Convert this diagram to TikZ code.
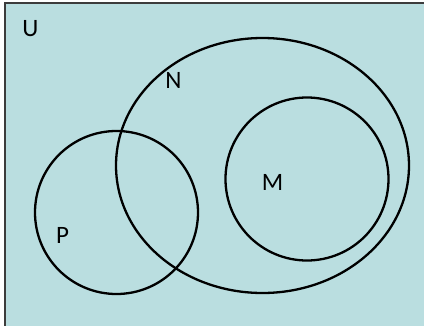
\documentclass[tikz,border=0pt]{standalone}
\usepackage{fontspec}
\setmainfont{Carlito}
\usepackage{tikz}
\usetikzlibrary{shapes.geometric}
\definecolor{vennbg}{RGB}{186,222,224}
\definecolor{vennframe}{RGB}{60,60,60}

\begin{document}
\begin{tikzpicture}[
        x=1pt, y=-1pt,
        setline/.style={draw=black, line width=2.3pt, inner sep=0pt},
        setcircle/.style={setline, circle},
        setoval/.style={setline, ellipse},
        setlabel/.style={font=\fontsize{25}{28}\selectfont, inner sep=0pt}
    ]
    \useasboundingbox (0,0) rectangle (424,325);
    \clip (0,0) rectangle (424,325);

    % universe
    \draw[fill=vennbg, draw=vennframe, line width=1.5pt] (5,3) rectangle (430,331);

    \node[setoval, minimum width=293pt, minimum height=255pt] (N) at (262.5,165.5) {};
    \node[setcircle, minimum size=163pt] (M) at (307,179) {};
    \node[setcircle, minimum size=163pt] (P) at (116.5,212.5) {};

    \node[setlabel] (labU) at (30.5,29) {U};
    \node[setlabel] (labN) at (173.5,80.5) {N};
    \node[setlabel] (labM) at (272.5,182.5) {M};
    \node[setlabel] (labP) at (62.5,235) {P};

\end{tikzpicture}
\end{document}
